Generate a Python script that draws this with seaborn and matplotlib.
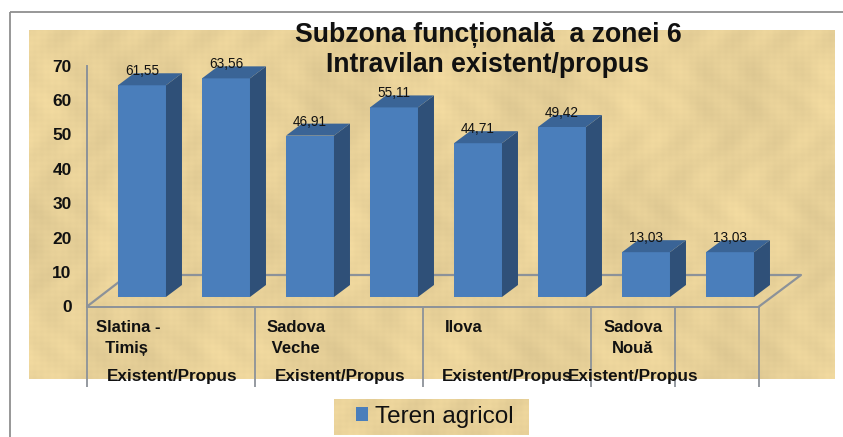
import numpy as np
import pandas as pd
import matplotlib
matplotlib.use("Agg")
import matplotlib.pyplot as plt
from matplotlib.patches import Polygon, Rectangle
import seaborn as sns

# values
bar_ids = ["a", "b", "c", "d", "e", "f", "g", "h"]
teren_agricol = [61.55, 63.56, 46.91, 55.11, 44.71, 49.42, 13.03, 13.03]
value_labels = ["61,55", "63,56", "46,91", "55,11", "44,71", "49,42", "13,03", "13,03"]
y_ticks = [0, 10, 20, 30, 40, 50, 60, 70]
places = ["Slatina -\n  Timiș", "Sadova\n Veche", "Ilova", "Sadova\nNouă"]
sub_label = "Existent/Propus"

W, H = 843, 437
FRONT, SIDE, TOP = "#4a7ebb", "#2f5078", "#3a6496"
GREY = "#8c9299"
INK = "#111111"

sns.set_theme(style="white")
plt.rcParams["font.family"] = ["Liberation Sans", "DejaVu Sans"]

fig = plt.figure(figsize=(W / 100, H / 100), dpi=100, facecolor="white")


def px_axes(left, top, right, bottom):
    return fig.add_axes([left / W, 1 - bottom / H, (right - left) / W, (bottom - top) / H])


def papyrus(w, h):
    # woven paper look, only the background
    yy, xx = np.mgrid[0:h, 0:w]
    t = (np.sin(xx * 0.9) + np.sin(yy * 1.1)) * 0.004
    t += np.sin(xx * 0.13 + np.sin(yy * 0.05) * 2) * np.sin(yy * 0.09 + 1) * 0.022
    t += np.sin(xx * 0.031 + 1.5) * np.sin(yy * 0.023) * 0.025
    base = np.array([0.91, 0.82, 0.60])
    return np.clip(base[None, None, :] * (1 + t[..., None]), 0, 1)


# page in pixel coordinates: frame, textured panels, floor of the 3d box
page = px_axes(0, 0, W, H)
page.add_patch(Rectangle((10, 12), 900, 500, fill=False, ec="#8f8f8f", lw=1.3))
page.imshow(papyrus(806, 349), extent=(29, 835, 379, 30), aspect="auto", interpolation="bilinear")
page.imshow(papyrus(195, 36), extent=(334, 529, 435, 399), aspect="auto", interpolation="bilinear")
page.plot([87, 128, 801, 759], [306.5, 275, 275, 306.5], color=GREY, lw=1.6)
page.set_xlim(0, W)
page.set_ylim(H, 0)
page.axis("off")

# axis box: y labels, front floor line and the long separators under it
box = px_axes(87, 65.5, 759, 306.5)
box.patch.set_alpha(0)
box.set_ylim(0, 70)
box.set_xlim(0, 8)
box.set_yticks(y_ticks)
box.set_yticklabels([str(v) for v in y_ticks], fontsize=12.5, fontweight="bold", color=INK)
box.set_xticks([0, 2, 4, 6, 7, 8])
box.set_xticklabels([])
box.tick_params(axis="y", length=0, pad=11)
box.tick_params(axis="x", length=57.5, width=1.3, color=GREY, bottom=True)
for s in ["top", "right"]:
    box.spines[s].set_visible(False)
for s in ["left", "bottom"]:
    box.spines[s].set_color(GREY)
    box.spines[s].set_linewidth(1.4)

# bars
df = pd.DataFrame({"id": bar_ids, "val": teren_agricol})
ax = px_axes(100, 56.2, 772, 297)
ax.patch.set_alpha(0)
sns.barplot(data=df, x="id", y="val", color=FRONT, width=0.571, ax=ax, saturation=1, zorder=3,
            linewidth=0, edgecolor="none")
ax.set_ylim(0, 70)
ax.set_xlim(-0.5, 7.5)
ax.axis("off")

dx = 16 / 84
dy = 12 / 3.44
for bar, lab in zip(list(ax.patches), value_labels):
    x0, w, h = bar.get_x(), bar.get_width(), bar.get_height()
    x1 = x0 + w
    ax.add_patch(Polygon([(x1, 0), (x1 + dx, dy), (x1 + dx, h + dy), (x1, h)], fc=SIDE, ec="none",
                         zorder=3, clip_on=False))
    ax.add_patch(Polygon([(x0, h), (x0 + dx, h + dy), (x1 + dx, h + dy), (x1, h)], fc=TOP, ec="none",
                         zorder=3, clip_on=False))
    ax.annotate(lab, (x0 + w / 2, h), xytext=(0, 14 * 0.72), textcoords="offset points", ha="center",
                va="center", fontsize=9.8, color=INK, zorder=5, annotation_clip=False)

# title
fig.text(488 / W, 1 - 34.5 / H, "Subzona funcțională  a zonei 6", ha="center", va="center", fontsize=19.2,
         fontweight="bold", color=INK)
fig.text(488 / W, 1 - 65.5 / H, "Intravilan existent/propus", ha="center", va="center", fontsize=19.2,
         fontweight="bold", color=INK)

# category texts
for name, x, ha in zip(places, [96, 267, 445, 633], ["left", "left", "left", "center"]):
    y = 338 if "\n" in name else 328
    fig.text(x / W, 1 - y / H, name, ha=ha, va="center", fontsize=12, fontweight="bold",
             color=INK, linespacing=1.45)
for x in [107, 275, 442, 568]:
    fig.text(x / W, 1 - 376 / H, sub_label, ha="left", va="center", fontsize=12.3, fontweight="bold", color=INK)

# legend
fig.legend([Rectangle((0, 0), 1, 1, fc=FRONT, ec="none")], ["Teren agricol"], loc="center",
           bbox_to_anchor=(435 / W, 1 - 417 / H), frameon=False, fontsize=17.5, handlelength=0.5,
           handleheight=0.5, handletextpad=0.3, labelcolor=INK)

fig.savefig("out.png", dpi=100)
